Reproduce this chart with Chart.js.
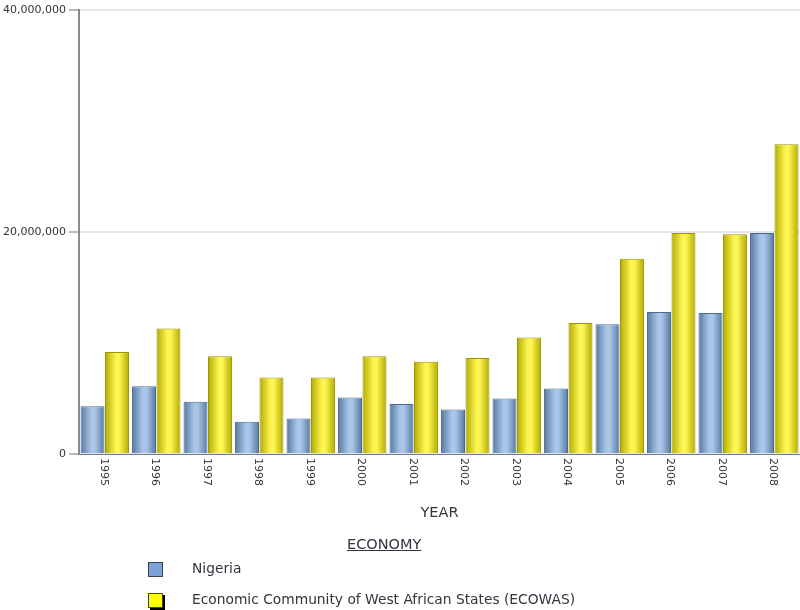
<!DOCTYPE html>
<html>
<head>
<meta charset="utf-8">
<script src="https://cdn.jsdelivr.net/npm/chart.js@4.4.0/dist/chart.umd.min.js"></script>
<style>
    body { margin: 0; background: #fff; }
    #wrap { position: relative; width: 800px; height: 610px; }
    #legend { position: absolute; left: 0; top: 0; width: 800px; height: 610px; pointer-events: none;
        font-family: "DejaVu Sans", sans-serif; color: #35333f; }
    #legendTitle { position: absolute; left: 347px; top: 536px; font-size: 14.5px; text-decoration: underline; }
    .item { position: absolute; left: 148px; font-size: 13.8px; }
    .swatch { position: absolute; left: 0; top: 0; width: 13px; height: 13px; border: 1px solid #3a4654; }
    .label { position: absolute; left: 44px; top: -2px; white-space: nowrap; }
</style>
</head>
<body>
<div id="wrap">
    <canvas id="economyChart" width="800" height="610"></canvas>
    <div id="legend"><div id="legendTitle">ECONOMY</div></div>
</div>
<script>
// Values (units: raw numbers)
const years = ['1995', '1996', '1997', '1998', '1999', '2000', '2001', '2002', '2003', '2004', '2005', '2006', '2007', '2008'];
const nigeria = [4300000, 6100000, 4700000, 2900000, 3200000, 5100000, 4500000, 4000000, 5000000, 5900000, 11700000, 12800000, 12700000, 19900000];
const ecowas = [9200000, 11300000, 8800000, 6900000, 6900000, 8800000, 8300000, 8650000, 10500000, 11800000, 17600000, 19900000, 19800000, 27900000];
const seriesNames = ['Nigeria', 'Economic Community of West African States (ECOWAS)'];
const yTicks = [0, 20000000, 40000000];

// cylinder-like shading for each bar
const shades = [
    { edge: '#56799f', mid: '#a9c6e8', border: '#4a6a92', swatch: '#7aa2d4' },
    { edge: '#b3ab00', mid: '#fcf552', border: '#9c9600', swatch: '#ffff00' }
];

function barFill(c) {
    const s = shades[c.datasetIndex];
    const meta = c.chart.getDatasetMeta(c.datasetIndex);
    const el = meta.data[c.dataIndex];
    if (!el || !el.width) return s.mid;
    const x0 = el.x - el.width / 2;
    const g = c.chart.ctx.createLinearGradient(x0, 0, x0 + el.width, 0);
    g.addColorStop(0, s.edge);
    g.addColorStop(0.45, s.mid);
    g.addColorStop(0.6, s.mid);
    g.addColorStop(1, s.edge);
    return g;
}

// x labels rotated clockwise (read top to bottom)
const verticalLabels = {
    id: 'verticalLabels',
    afterDraw(chart) {
        const xs = chart.scales.x;
        const ctx = chart.ctx;
        ctx.save();
        ctx.font = '11px "DejaVu Sans"';
        ctx.fillStyle = '#35333f';
        ctx.textAlign = 'left';
        ctx.textBaseline = 'middle';
        years.forEach((label, i) => {
            ctx.save();
            ctx.translate(xs.getPixelForTick(i) - 1, xs.top + 4);
            ctx.rotate(Math.PI / 2);
            ctx.fillText(label, 0, 0);
            ctx.restore();
        });
        ctx.restore();
    }
};

const ctx = document.getElementById('economyChart');
const economyChart = new Chart(ctx, {
    type: 'bar',
    data: {
        labels: years,
        datasets: [
            {
                label: seriesNames[0],
                data: nigeria,
                backgroundColor: barFill,
                borderColor: shades[0].border,
                borderWidth: 1
            },
            {
                label: seriesNames[1],
                data: ecowas,
                backgroundColor: barFill,
                borderColor: shades[1].border,
                borderWidth: 1
            }
        ]
    },
    options: {
        responsive: false,
        animation: false,
        layout: { padding: { left: 0, right: 0, top: 10, bottom: 80 } },
        categoryPercentage: 0.95,
        barPercentage: 0.98,
        plugins: {
            legend: { display: false },
            tooltip: { enabled: false }
        },
        scales: {
            x: {
                grid: { display: false },
                border: { display: true, color: '#6d7b8d', width: 1 },
                ticks: { display: false },
                title: {
                    display: true,
                    text: 'YEAR',
                    color: '#35333f',
                    font: { family: 'DejaVu Sans', size: 14.5 },
                    padding: { top: 0, bottom: 8 }
                },
                afterFit(scale) { scale.height = 76; }
            },
            y: {
                min: 0,
                max: 40000000,
                afterBuildTicks(scale) { scale.ticks = yTicks.map(v => ({ value: v })); },
                grid: { color: '#e6e6e6', lineWidth: 2, tickLength: 10, tickColor: '#777', tickWidth: 1 },
                border: { color: '#8a8a8a', width: 2 },
                ticks: {
                    padding: 3,
                    color: '#35333f',
                    font: { family: 'DejaVu Sans', size: 11 },
                    callback: function(value) {
                        return value.toLocaleString('en-US');
                    }
                },
                afterFit(scale) { scale.width = 79; }
            }
        }
    },
    plugins: [verticalLabels]
});
// second pass so the gradients know where each bar sits
economyChart.update('none');

// legend built from the series names
const legendBox = document.getElementById('legend');
seriesNames.forEach((name, i) => {
    const item = document.createElement('div');
    item.className = 'item';
    item.style.top = (562 + i * 31) + 'px';
    const sw = document.createElement('div');
    sw.className = 'swatch';
    sw.style.background = shades[i].swatch;
    if (i === 1) sw.style.boxShadow = '2px 2px 0 #000';
    const lb = document.createElement('div');
    lb.className = 'label';
    lb.textContent = name;
    item.appendChild(sw);
    item.appendChild(lb);
    legendBox.appendChild(item);
});
</script>
</body>
</html>
